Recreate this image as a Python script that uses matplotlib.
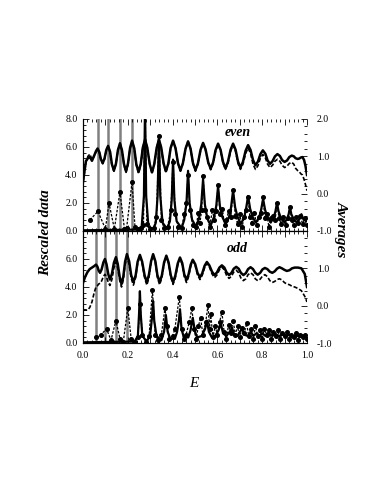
import matplotlib
matplotlib.use("Agg")
import matplotlib.pyplot as plt
from matplotlib.ticker import MultipleLocator, FuncFormatter

plt.rcParams["font.family"] = ["Liberation Serif", "DejaVu Serif"]

# ---------------- data: even panel ----------------
# averages (right axis): solid and dashed
e_avg_even = [0.000, 0.013, 0.022, 0.031, 0.040, 0.052, 0.058, 0.065, 0.073, 0.080,
              0.088, 0.096, 0.104, 0.112, 0.121, 0.129, 0.138, 0.147, 0.156, 0.165,
              0.174, 0.183, 0.192, 0.201, 0.210, 0.219, 0.229, 0.238, 0.248, 0.258,
              0.267, 0.277, 0.287, 0.298, 0.308, 0.318, 0.329, 0.339, 0.349, 0.360,
              0.370, 0.381, 0.391, 0.402, 0.413, 0.424, 0.435, 0.446, 0.458, 0.469,
              0.480, 0.491, 0.502, 0.513, 0.525, 0.536, 0.547, 0.559, 0.570, 0.581,
              0.592, 0.603, 0.614, 0.625, 0.636, 0.647, 0.659, 0.670, 0.681, 0.692,
              0.703, 0.714, 0.726, 0.737, 0.748, 0.759, 0.770, 0.781, 0.792, 0.803,
              0.814, 0.824, 0.835, 0.846, 0.857, 0.868, 0.879, 0.889, 0.900, 0.911,
              0.921, 0.932, 0.941, 0.949, 0.958, 0.965, 0.973, 0.980, 0.987, 0.993,
              1.000]
avg_solid_even = [0.31, 0.87, 0.95, 0.98, 0.88, 1.05, 1.14, 1.21, 1.11, 0.92,
                  0.82, 0.94, 1.17, 1.28, 1.12, 0.79, 0.62, 0.80, 1.17, 1.35,
                  1.16, 0.79, 0.60, 0.81, 1.22, 1.42, 1.21, 0.79, 0.58, 0.80,
                  1.23, 1.45, 1.23, 0.79, 0.57, 0.79, 1.23, 1.45, 1.24, 0.81,
                  0.60, 0.81, 1.22, 1.42, 1.22, 0.82, 0.62, 0.82, 1.21, 1.40,
                  1.21, 0.82, 0.63, 0.81, 1.18, 1.36, 1.19, 0.84, 0.67, 0.84,
                  1.17, 1.34, 1.18, 0.85, 0.68, 0.85, 1.18, 1.34, 1.18, 0.86,
                  0.70, 0.85, 1.15, 1.30, 1.17, 0.90, 0.76, 0.86, 1.06, 1.16,
                  1.07, 0.89, 0.80, 0.87, 1.00, 1.06, 1.01, 0.90, 0.85, 0.89,
                  0.98, 1.02, 1.00, 0.95, 0.93, 0.94, 0.97, 0.98, 0.90, 0.75,
                  0.50]
avg_dash_even = [0.31, 0.85, 1.00, 1.06, 0.90, 1.03, 1.12, 1.20, 1.10, 0.90,
                 0.80, 0.92, 1.15, 1.27, 1.10, 0.77, 0.60, 0.79, 1.16, 1.35,
                 1.16, 0.77, 0.57, 0.78, 1.21, 1.42, 1.20, 0.77, 0.55, 0.78,
                 1.23, 1.45, 1.23, 0.78, 0.55, 0.78, 1.23, 1.45, 1.23, 0.79,
                 0.57, 0.78, 1.21, 1.42, 1.22, 0.81, 0.60, 0.80, 1.20, 1.40,
                 1.20, 0.80, 0.60, 0.79, 1.16, 1.35, 1.17, 0.82, 0.64, 0.81,
                 1.15, 1.32, 1.15, 0.82, 0.65, 0.81, 1.14, 1.30, 1.14, 0.81,
                 0.65, 0.79, 1.08, 1.22, 1.08, 0.79, 0.65, 0.75, 0.95, 1.05,
                 0.96, 0.79, 0.70, 0.76, 0.87, 0.92, 0.87, 0.76, 0.70, 0.74,
                 0.81, 0.84, 0.79, 0.68, 0.62, 0.59, 0.53, 0.50, 0.38, 0.25,
                 0.08]

# rescaled data (left axis): smooth curve and sampled curve with dots
sharp_peaks_even = [0.067, 0.112, 0.165, 0.219]
e_line_even = [0.000, 0.240, 0.262, 0.272, 0.277, 0.282, 0.292, 0.315, 0.325, 0.333,
               0.339, 0.345, 0.355, 0.375, 0.388, 0.396, 0.402, 0.408, 0.418, 0.440,
               0.452, 0.462, 0.469, 0.476, 0.487, 0.505, 0.518, 0.528, 0.536, 0.544,
               0.555, 0.570, 0.585, 0.595, 0.603, 0.611, 0.622, 0.637, 0.652, 0.661,
               0.670, 0.679, 0.690, 0.705, 0.720, 0.728, 0.737, 0.746, 0.757, 0.772,
               0.787, 0.795, 0.804, 0.813, 0.824, 0.838, 0.852, 0.859, 0.866, 0.873,
               0.884, 0.900, 0.912, 0.918, 0.924, 0.930, 0.942, 0.955, 0.968, 0.975,
               0.985, 1.000]
line_even = [0.05, 0.10, 0.30, 2.50, 9.00, 2.50, 0.30, 0.15, 0.60, 2.50,
             6.80, 2.50, 0.60, 0.15, 0.70, 2.20, 5.10, 2.20, 0.70, 0.20,
             0.80, 2.00, 4.30, 2.00, 0.80, 0.30, 0.90, 1.90, 3.70, 1.90,
             0.90, 0.40, 1.00, 1.80, 3.20, 1.80, 1.00, 0.50, 1.00, 1.70,
             2.90, 1.70, 1.00, 0.50, 1.00, 1.60, 2.50, 1.60, 1.00, 0.60,
             1.00, 1.50, 2.30, 1.50, 1.00, 0.60, 1.00, 1.40, 2.00, 1.40,
             0.90, 0.60, 0.90, 1.20, 1.70, 1.20, 0.80, 0.60, 0.90, 1.20,
             0.80, 0.70]
e_dots_even = [0.031, 0.067, 0.100, 0.116, 0.140, 0.165, 0.185, 0.195, 0.219, 0.232,
               0.245, 0.258, 0.270, 0.277, 0.285, 0.300, 0.315, 0.328, 0.339, 0.350,
               0.362, 0.378, 0.392, 0.402, 0.412, 0.425, 0.440, 0.452, 0.462, 0.469,
               0.478, 0.490, 0.505, 0.515, 0.522, 0.530, 0.536, 0.545, 0.555, 0.565,
               0.578, 0.586, 0.595, 0.603, 0.612, 0.622, 0.632, 0.640, 0.650, 0.660,
               0.670, 0.680, 0.690, 0.700, 0.710, 0.720, 0.728, 0.737, 0.745, 0.755,
               0.765, 0.775, 0.785, 0.795, 0.804, 0.812, 0.820, 0.830, 0.840, 0.850,
               0.858, 0.866, 0.875, 0.885, 0.895, 0.905, 0.915, 0.924, 0.932, 0.940,
               0.950, 0.960, 0.970, 0.980, 0.990, 0.998]
dots_even = [0.8, 1.4, 0.15, 2.0, 0.15, 2.8, 0.15, 0.25, 3.5, 0.3,
             0.15, 0.2, 0.4, 9.0, 0.5, 0.15, 0.2, 1.0, 6.8, 0.8,
             0.2, 0.3, 1.5, 4.9, 1.2, 0.3, 0.2, 1.2, 2.0, 4.0,
             1.5, 0.4, 0.3, 1.3, 0.6, 1.5, 3.9, 1.5, 1.0, 0.3,
             1.5, 0.8, 1.4, 3.3, 1.2, 1.6, 0.4, 0.8, 1.4, 1.0,
             2.9, 1.1, 0.5, 1.2, 0.3, 1.0, 1.5, 2.4, 1.0, 0.6,
             1.3, 0.4, 1.0, 1.3, 2.4, 0.9, 1.2, 0.3, 0.9, 1.1,
             0.8, 2.0, 0.9, 0.5, 1.0, 0.4, 0.9, 1.7, 0.8, 0.4,
             1.0, 0.6, 1.1, 0.5, 0.9, 0.4]

# ---------------- data: odd panel ----------------
e_avg_odd = [0.000, 0.010, 0.020, 0.030, 0.040, 0.050, 0.058, 0.064, 0.070, 0.076,
             0.083, 0.091, 0.098, 0.105, 0.113, 0.120, 0.129, 0.138, 0.147, 0.155,
             0.164, 0.172, 0.180, 0.188, 0.196, 0.206, 0.215, 0.225, 0.235, 0.244,
             0.254, 0.264, 0.275, 0.285, 0.294, 0.304, 0.313, 0.323, 0.332, 0.342,
             0.352, 0.362, 0.372, 0.382, 0.392, 0.402, 0.412, 0.423, 0.433, 0.443,
             0.452, 0.462, 0.471, 0.481, 0.490, 0.501, 0.511, 0.522, 0.532, 0.543,
             0.553, 0.564, 0.576, 0.587, 0.598, 0.609, 0.620, 0.631, 0.641, 0.652,
             0.663, 0.673, 0.684, 0.695, 0.705, 0.716, 0.727, 0.737, 0.748, 0.759,
             0.769, 0.780, 0.791, 0.801, 0.812, 0.823, 0.834, 0.845, 0.856, 0.866,
             0.877, 0.888, 0.899, 0.910, 0.922, 0.933, 0.945, 0.960, 0.975, 0.990,
             1.000]
avg_solid_odd = [0.61, 0.78, 0.90, 0.98, 1.02, 1.06, 1.10, 1.05, 0.94, 0.88,
                 0.97, 1.16, 1.25, 1.11, 0.84, 0.70, 0.85, 1.15, 1.30, 1.12,
                 0.76, 0.58, 0.78, 1.18, 1.38, 1.19, 0.82, 0.63, 0.81, 1.18,
                 1.36, 1.18, 0.81, 0.63, 0.82, 1.19, 1.38, 1.19, 0.82, 0.63,
                 0.81, 1.16, 1.34, 1.16, 0.81, 0.63, 0.80, 1.13, 1.29, 1.14,
                 0.84, 0.69, 0.83, 1.10, 1.23, 1.11, 0.88, 0.76, 0.86, 1.07,
                 1.17, 1.08, 0.91, 0.82, 0.89, 1.02, 1.08, 1.02, 0.89, 0.82,
                 0.88, 0.99, 1.04, 0.99, 0.88, 0.82, 0.87, 0.98, 1.03, 0.98,
                 0.88, 0.83, 0.88, 0.97, 1.01, 0.98, 0.91, 0.88, 0.92, 0.99,
                 1.03, 1.00, 0.96, 0.93, 0.95, 1.00, 1.02, 1.02, 1.00, 0.85,
                 0.50]
avg_dash_odd = [-0.12, -0.12, -0.12, -0.05, 0.10, 0.35, 0.50, 0.53, 0.58, 0.60,
                0.66, 0.78, 0.84, 0.77, 0.62, 0.54, 0.70, 1.01, 1.17, 1.00,
                0.67, 0.50, 0.70, 1.10, 1.30, 1.11, 0.74, 0.55, 0.75, 1.14,
                1.33, 1.14, 0.75, 0.55, 0.75, 1.16, 1.36, 1.16, 0.76, 0.56,
                0.75, 1.13, 1.32, 1.13, 0.76, 0.57, 0.74, 1.09, 1.26, 1.10,
                0.78, 0.62, 0.77, 1.06, 1.20, 1.08, 0.83, 0.70, 0.81, 1.02,
                1.13, 1.04, 0.85, 0.75, 0.82, 0.96, 1.03, 0.96, 0.81, 0.73,
                0.79, 0.90, 0.95, 0.88, 0.74, 0.67, 0.72, 0.83, 0.88, 0.83,
                0.72, 0.67, 0.71, 0.79, 0.83, 0.78, 0.67, 0.62, 0.65, 0.70,
                0.72, 0.69, 0.62, 0.58, 0.56, 0.52, 0.50, 0.46, 0.40, 0.25,
                0.10]

sharp_peaks_odd = [0.058, 0.098, 0.147, 0.196]
e_line_odd = [0.000, 0.230, 0.245, 0.250, 0.254, 0.258, 0.265, 0.285, 0.300, 0.308,
              0.313, 0.318, 0.328, 0.350, 0.362, 0.370, 0.378, 0.390, 0.410, 0.420,
              0.428, 0.433, 0.440, 0.450, 0.470, 0.480, 0.490, 0.500, 0.510, 0.530,
              0.545, 0.553, 0.562, 0.575, 0.590, 0.605, 0.615, 0.625, 0.640, 0.655,
              0.665, 0.675, 0.690, 0.700, 0.710, 0.720, 0.735, 0.750, 0.760, 0.775,
              0.790, 0.800, 0.815, 0.830, 0.845, 0.860, 0.875, 0.890, 0.905, 0.920,
              0.935, 0.950, 0.965, 0.980, 1.000]
line_odd = [0.05, 0.10, 0.50, 2.00, 3.70, 2.00, 0.50, 0.10, 0.60, 1.80,
            3.00, 1.60, 0.50, 0.20, 0.80, 2.00, 0.80, 0.30, 0.30, 0.80,
            1.60, 2.40, 1.00, 0.40, 0.40, 0.90, 1.80, 0.80, 0.40, 0.50,
            1.00, 1.60, 0.80, 0.40, 0.50, 0.90, 1.40, 0.70, 0.50, 0.80,
            1.10, 0.60, 0.50, 0.80, 1.00, 0.60, 0.50, 0.80, 0.50, 0.70,
            0.50, 0.70, 0.50, 0.70, 0.50, 0.65, 0.50, 0.60, 0.45, 0.60,
            0.40, 0.55, 0.45, 0.55, 0.50]
e_dots_odd = [0.060, 0.080, 0.105, 0.125, 0.147, 0.165, 0.180, 0.200, 0.215, 0.230,
              0.245, 0.254, 0.265, 0.280, 0.295, 0.310, 0.322, 0.335, 0.350, 0.366,
              0.375, 0.385, 0.400, 0.410, 0.430, 0.440, 0.450, 0.460, 0.475, 0.486,
              0.495, 0.505, 0.515, 0.525, 0.535, 0.548, 0.558, 0.565, 0.570, 0.580,
              0.590, 0.600, 0.610, 0.620, 0.630, 0.640, 0.650, 0.660, 0.670, 0.680,
              0.690, 0.700, 0.710, 0.720, 0.730, 0.740, 0.750, 0.760, 0.770, 0.780,
              0.790, 0.800, 0.810, 0.820, 0.830, 0.840, 0.850, 0.860, 0.870, 0.880,
              0.890, 0.900, 0.910, 0.920, 0.930, 0.940, 0.950, 0.960, 0.970, 0.980,
              0.990, 1.000]
dots_odd = [0.4, 0.6, 1.0, 0.2, 1.6, 0.3, 0.1, 2.5, 0.3, 0.1,
            0.4, 2.8, 0.6, 0.1, 0.5, 3.8, 0.6, 0.2, 0.6, 2.5,
            1.2, 0.3, 0.5, 1.0, 3.3, 1.0, 0.3, 0.6, 1.5, 2.5,
            1.0, 0.3, 1.2, 1.8, 0.6, 1.5, 2.7, 1.0, 2.1, 0.4,
            1.2, 0.6, 1.5, 2.2, 0.8, 0.3, 1.3, 0.7, 1.6, 0.6,
            1.2, 0.4, 1.1, 0.7, 1.4, 0.5, 1.0, 0.3, 1.2, 0.5,
            0.9, 0.3, 1.0, 0.6, 0.9, 0.3, 0.8, 0.5, 0.9, 0.3,
            0.7, 0.5, 0.8, 0.3, 0.6, 0.4, 0.7, 0.2, 0.6, 0.4,
            0.6, 0.3]

panels = [
    ("even", e_avg_even, avg_solid_even, avg_dash_even, sharp_peaks_even,
     e_line_even, line_even, e_dots_even, dots_even),
    ("odd", e_avg_odd, avg_solid_odd, avg_dash_odd, sharp_peaks_odd,
     e_line_odd, line_odd, e_dots_odd, dots_odd),
]

fig = plt.figure(figsize=(3.82, 4.93), dpi=100)
ax_w = 224 / 382
ax_h = 112 / 493
bottoms = [(493 - 231) / 493, (493 - 343) / 493]


def fmt1(v, pos):
    return "%.1f" % v


for i, (name, e_avg, a_sol, a_dash, sharp, e_line, line, e_dots, dots) in enumerate(panels):
    ax = fig.add_axes([83 / 382, bottoms[i], ax_w, ax_h])
    ax2 = ax.twinx()

    # narrow resonances drawn as grey bars
    for e in sharp:
        ax.axvline(e, color="#808080", lw=1.8, zorder=1)
    ax.plot(e_line, line, color="black", lw=1.6, zorder=3)
    ax.plot(e_dots, dots, color="black", lw=0.9, ls=(0, (2, 1.2)),
            marker="o", ms=2.6, zorder=4)

    ax2.plot(e_avg, a_sol, color="black", lw=1.8)
    ax2.plot(e_avg, a_dash, color="black", lw=1.2, ls=(0, (2.5, 1.2)))

    ax.set_xlim(0, 1)
    ax.set_ylim(0, 8)
    ax2.set_ylim(-1, 2)

    ax.xaxis.set_major_locator(MultipleLocator(0.1))
    ax.xaxis.set_minor_locator(MultipleLocator(0.02))
    ax.yaxis.set_major_locator(MultipleLocator(2))
    ax.yaxis.set_minor_locator(MultipleLocator(0.4))
    ax2.yaxis.set_major_locator(MultipleLocator(1))
    ax2.yaxis.set_minor_locator(MultipleLocator(0.2))

    ax.tick_params(which="both", direction="in", top=True, right=False,
                   labelsize=7, width=0.6)
    ax.tick_params(which="major", length=4)
    ax.tick_params(which="minor", length=2)
    ax.tick_params(axis="y", pad=4)
    ax2.tick_params(which="both", direction="in", labelsize=7, width=0.6, pad=7)
    ax2.tick_params(which="major", length=4)
    ax2.tick_params(which="minor", length=2)

    ax.xaxis.set_major_formatter(FuncFormatter(
        lambda v, p: ("%.1f" % v) if round(v * 10) % 2 == 0 else ""))
    ax.tick_params(axis="x", pad=6)

    if i == 0:
        ax.yaxis.set_major_formatter(FuncFormatter(fmt1))
        ax2.yaxis.set_major_formatter(FuncFormatter(fmt1))
        ax.tick_params(axis="x", labelbottom=False)
        for a in (ax, ax2):
            a.spines["top"].set_visible(False)
    else:
        ax.yaxis.set_major_formatter(FuncFormatter(
            lambda v, p: "%.1f" % v if v < 7.9 else ""))
        ax2.yaxis.set_major_formatter(FuncFormatter(
            lambda v, p: "%.1f" % v if v < 1.9 else ""))
    for a in (ax, ax2):
        a.spines["right"].set_visible(False)
        a.spines["left"].set_linewidth(0.8)
        a.spines["bottom"].set_linewidth(0.8)
        a.spines["top"].set_linewidth(0.8)

    ax.text(0.69, 7.0 if i == 0 else 6.75, name, fontsize=10, style="italic",
            fontweight="bold", ha="center", va="center")

fig.text(0.118, 0.529, "Rescaled data", rotation=90, fontsize=11,
         style="italic", fontweight="bold", ha="center", va="center")
fig.text(0.893, 0.535, "Averages", rotation=-90, fontsize=11,
         style="italic", fontweight="bold", ha="center", va="center")
fig.text(0.508, 0.223, "E", fontsize=11, style="italic", ha="center", va="center")

fig.savefig("out.png", dpi=100)
